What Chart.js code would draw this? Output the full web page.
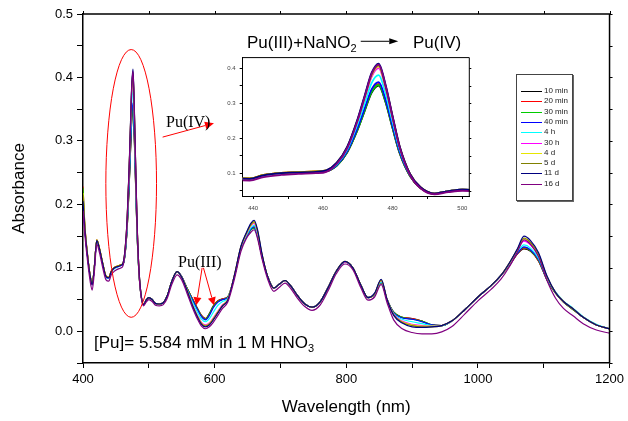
<!DOCTYPE html>
<html>
<head>
<meta charset="utf-8">
<script src="https://cdn.jsdelivr.net/npm/chart.js@4.4.0/dist/chart.umd.min.js"></script>
<style>
  body { margin: 0; background: #fff; }
  #wrap { position: relative; width: 628px; height: 421px; overflow: hidden; font-family: 'Liberation Sans', Arial, sans-serif; }
  #main { position: absolute; left: 0; top: 0; }
  #inset { position: absolute; left: 200px; top: 50px; }
  .note { position: absolute; white-space: nowrap; line-height: 1; color: #000; }
  .serif { font-family: 'Liberation Serif', 'Times New Roman', serif; font-size: 16px; }
  .sans { font-size: 17px; }
  .note sub { font-size: 11px; vertical-align: -4px; line-height: 0; }
  #legend { position: absolute; left: 516px; top: 74px; width: 55px; height: 125px; border: 1px solid #444; box-shadow: 1px 1px 0 #666; background: #fff; }
  .row { position: absolute; left: 0; width: 55px; height: 10px; font-size: 8px; line-height: 10px; color: #222; white-space: nowrap; }
  .row span.ln { position: absolute; left: 4px; top: 5px; width: 21px; height: 1px; }
  .row span.tx { position: absolute; left: 27px; top: 0; white-space: nowrap; }
</style>
</head>
<body>
<div id="wrap">
  <canvas id="main" width="628" height="421"></canvas>
  <canvas id="inset" width="280" height="170"></canvas>
  <div class="note sans" style="left:247px; top:34px;">Pu(III)+NaNO<sub>2</sub></div>
  <div class="note sans" style="left:413px; top:34px;">Pu(IV)</div>
  <div class="note serif" style="left:166px; top:114px;">Pu(IV)</div>
  <div class="note serif" style="left:178px; top:254px;">Pu(III)</div>
  <div class="note sans" style="left:94px; top:334px;">[Pu]= 5.584 mM in 1 M HNO<sub>3</sub></div>
  <div id="legend"></div>
</div>
<script>
// wavelength grid (nm)
const wavelengths = [
  400, 403, 407, 411, 414, 417, 421, 425, 430, 435, 439, 443, 448, 453, 458,
  461, 464, 467, 470, 472, 474, 476, 478, 480, 482, 485, 488,
  492, 496, 500, 505, 510, 516, 522, 528, 535, 543, 550, 558,
  566, 574, 580, 586, 592, 598, 605, 612, 620,
  630, 640, 648, 655, 660, 665, 672,
  680, 690, 698, 707, 716, 726, 737, 748, 760, 772, 785, 798, 810, 822, 833, 843, 853, 862,
  872, 885, 900, 915, 930, 945, 960,
  980, 1000, 1020, 1035, 1048, 1060, 1070, 1080, 1092, 1105,
  1118, 1130, 1145, 1160, 1180, 1200
];

const abs10min = [
  0.212, 0.160, 0.118, 0.086, 0.074, 0.098, 0.143, 0.130, 0.106, 0.086, 0.084, 0.094, 0.100, 0.102, 0.104,
  0.106, 0.122, 0.160, 0.225, 0.278, 0.330, 0.350, 0.302, 0.228, 0.158, 0.092, 0.058,
  0.042, 0.049, 0.053, 0.050, 0.044, 0.043, 0.045, 0.056, 0.079, 0.094, 0.086, 0.068,
  0.052, 0.036, 0.025, 0.020, 0.028, 0.040, 0.048, 0.051, 0.054,
  0.086, 0.130, 0.148, 0.160, 0.163, 0.150, 0.118,
  0.088, 0.068, 0.074, 0.080, 0.071, 0.056, 0.043, 0.038, 0.046, 0.068, 0.095, 0.109, 0.100, 0.073, 0.053, 0.058, 0.077, 0.050,
  0.030, 0.022, 0.020, 0.016, 0.010, 0.009, 0.016,
  0.034, 0.054, 0.072, 0.088, 0.104, 0.122, 0.130, 0.126, 0.111, 0.081,
  0.060, 0.046, 0.034, 0.022, 0.010, 0.004
];
const abs20min = [
  0.228, 0.165, 0.120, 0.087, 0.075, 0.099, 0.144, 0.131, 0.107, 0.087, 0.085, 0.095, 0.101, 0.103, 0.105,
  0.106, 0.123, 0.162, 0.228, 0.282, 0.335, 0.355, 0.306, 0.231, 0.160, 0.093, 0.058,
  0.042, 0.049, 0.053, 0.050, 0.044, 0.043, 0.045, 0.056, 0.079, 0.094, 0.086, 0.068,
  0.052, 0.036, 0.025, 0.020, 0.027, 0.039, 0.048, 0.051, 0.054,
  0.087, 0.131, 0.149, 0.161, 0.164, 0.151, 0.118,
  0.088, 0.068, 0.074, 0.080, 0.071, 0.056, 0.043, 0.038, 0.046, 0.068, 0.095, 0.109, 0.100, 0.073, 0.053, 0.058, 0.077, 0.050,
  0.030, 0.022, 0.020, 0.016, 0.010, 0.009, 0.016,
  0.034, 0.054, 0.072, 0.088, 0.104, 0.122, 0.131, 0.127, 0.111, 0.081,
  0.060, 0.046, 0.034, 0.022, 0.010, 0.004
];
const abs30min = [
  0.226, 0.163, 0.119, 0.086, 0.074, 0.098, 0.143, 0.130, 0.106, 0.086, 0.084, 0.094, 0.100, 0.102, 0.104,
  0.106, 0.122, 0.161, 0.226, 0.280, 0.332, 0.352, 0.304, 0.229, 0.159, 0.092, 0.058,
  0.042, 0.049, 0.053, 0.050, 0.044, 0.043, 0.045, 0.056, 0.079, 0.094, 0.086, 0.068,
  0.051, 0.035, 0.024, 0.019, 0.027, 0.039, 0.047, 0.050, 0.054,
  0.086, 0.130, 0.148, 0.160, 0.163, 0.150, 0.117,
  0.088, 0.068, 0.074, 0.080, 0.071, 0.056, 0.043, 0.038, 0.046, 0.068, 0.095, 0.109, 0.100, 0.073, 0.053, 0.058, 0.077, 0.050,
  0.030, 0.022, 0.019, 0.016, 0.010, 0.009, 0.016,
  0.034, 0.054, 0.072, 0.088, 0.105, 0.123, 0.132, 0.127, 0.112, 0.081,
  0.060, 0.046, 0.034, 0.022, 0.010, 0.004
];
const abs40min = [
  0.205, 0.158, 0.117, 0.086, 0.074, 0.098, 0.143, 0.130, 0.106, 0.086, 0.084, 0.094, 0.100, 0.102, 0.104,
  0.106, 0.123, 0.163, 0.231, 0.286, 0.340, 0.360, 0.310, 0.234, 0.162, 0.094, 0.059,
  0.042, 0.049, 0.053, 0.050, 0.044, 0.043, 0.045, 0.056, 0.079, 0.094, 0.086, 0.067,
  0.050, 0.034, 0.023, 0.018, 0.025, 0.037, 0.046, 0.050, 0.053,
  0.087, 0.131, 0.149, 0.161, 0.165, 0.152, 0.118,
  0.088, 0.068, 0.074, 0.080, 0.071, 0.056, 0.043, 0.038, 0.046, 0.068, 0.095, 0.109, 0.100, 0.073, 0.053, 0.058, 0.078, 0.050,
  0.029, 0.021, 0.019, 0.015, 0.010, 0.009, 0.016,
  0.034, 0.054, 0.072, 0.088, 0.105, 0.123, 0.133, 0.128, 0.113, 0.082,
  0.061, 0.047, 0.035, 0.022, 0.010, 0.004
];
const abs4h = [
  0.200, 0.157, 0.116, 0.085, 0.073, 0.097, 0.142, 0.129, 0.105, 0.085, 0.083, 0.093, 0.099, 0.101, 0.104,
  0.107, 0.126, 0.168, 0.242, 0.300, 0.358, 0.380, 0.326, 0.246, 0.169, 0.096, 0.059,
  0.042, 0.049, 0.053, 0.050, 0.044, 0.043, 0.045, 0.056, 0.079, 0.094, 0.085, 0.066,
  0.047, 0.030, 0.019, 0.015, 0.020, 0.030, 0.041, 0.047, 0.052,
  0.087, 0.132, 0.150, 0.163, 0.167, 0.154, 0.119,
  0.088, 0.068, 0.074, 0.080, 0.071, 0.056, 0.043, 0.038, 0.046, 0.068, 0.095, 0.109, 0.100, 0.073, 0.053, 0.058, 0.078, 0.050,
  0.028, 0.019, 0.015, 0.012, 0.009, 0.009, 0.016,
  0.034, 0.054, 0.072, 0.088, 0.106, 0.125, 0.136, 0.131, 0.115, 0.083,
  0.062, 0.048, 0.036, 0.023, 0.011, 0.004
];
const abs30h = [
  0.210, 0.160, 0.118, 0.086, 0.073, 0.098, 0.143, 0.130, 0.106, 0.086, 0.084, 0.094, 0.100, 0.102, 0.104,
  0.108, 0.129, 0.173, 0.251, 0.314, 0.376, 0.400, 0.342, 0.257, 0.175, 0.098, 0.060,
  0.042, 0.049, 0.053, 0.050, 0.044, 0.043, 0.045, 0.056, 0.079, 0.094, 0.085, 0.065,
  0.043, 0.025, 0.014, 0.010, 0.013, 0.021, 0.032, 0.042, 0.050,
  0.088, 0.133, 0.152, 0.166, 0.170, 0.156, 0.120,
  0.088, 0.068, 0.074, 0.080, 0.071, 0.056, 0.043, 0.038, 0.046, 0.068, 0.095, 0.109, 0.100, 0.073, 0.053, 0.059, 0.080, 0.050,
  0.027, 0.016, 0.011, 0.009, 0.008, 0.009, 0.016,
  0.034, 0.054, 0.072, 0.088, 0.107, 0.128, 0.142, 0.136, 0.119, 0.085,
  0.061, 0.047, 0.035, 0.022, 0.010, 0.004
];
const abs4d = [
  0.218, 0.162, 0.119, 0.087, 0.074, 0.099, 0.144, 0.131, 0.107, 0.087, 0.085, 0.095, 0.101, 0.103, 0.105,
  0.108, 0.129, 0.174, 0.253, 0.317, 0.380, 0.405, 0.345, 0.259, 0.176, 0.098, 0.060,
  0.042, 0.049, 0.053, 0.050, 0.044, 0.043, 0.045, 0.056, 0.079, 0.094, 0.085, 0.065,
  0.042, 0.024, 0.013, 0.009, 0.012, 0.020, 0.031, 0.041, 0.050,
  0.088, 0.133, 0.153, 0.167, 0.172, 0.158, 0.121,
  0.088, 0.068, 0.074, 0.080, 0.071, 0.056, 0.043, 0.038, 0.046, 0.068, 0.095, 0.110, 0.100, 0.073, 0.053, 0.059, 0.080, 0.050,
  0.026, 0.015, 0.010, 0.008, 0.008, 0.009, 0.016,
  0.034, 0.054, 0.072, 0.088, 0.107, 0.129, 0.146, 0.139, 0.121, 0.086,
  0.061, 0.047, 0.035, 0.022, 0.010, 0.004
];
const abs5d = [
  0.215, 0.161, 0.119, 0.087, 0.075, 0.099, 0.144, 0.131, 0.107, 0.087, 0.085, 0.095, 0.101, 0.103, 0.105,
  0.108, 0.130, 0.175, 0.254, 0.319, 0.383, 0.408, 0.348, 0.261, 0.177, 0.098, 0.060,
  0.042, 0.049, 0.053, 0.050, 0.044, 0.043, 0.045, 0.056, 0.079, 0.094, 0.085, 0.065,
  0.042, 0.023, 0.012, 0.008, 0.011, 0.019, 0.030, 0.040, 0.049,
  0.088, 0.134, 0.154, 0.168, 0.173, 0.159, 0.121,
  0.088, 0.068, 0.074, 0.080, 0.071, 0.056, 0.043, 0.038, 0.046, 0.068, 0.095, 0.110, 0.100, 0.073, 0.053, 0.059, 0.081, 0.050,
  0.026, 0.014, 0.009, 0.007, 0.007, 0.009, 0.016,
  0.034, 0.054, 0.072, 0.088, 0.108, 0.129, 0.147, 0.140, 0.122, 0.086,
  0.061, 0.047, 0.035, 0.022, 0.010, 0.004
];
const abs11d = [
  0.205, 0.158, 0.117, 0.086, 0.073, 0.098, 0.143, 0.130, 0.106, 0.086, 0.084, 0.094, 0.100, 0.102, 0.104,
  0.108, 0.130, 0.176, 0.256, 0.322, 0.387, 0.413, 0.352, 0.263, 0.178, 0.098, 0.060,
  0.042, 0.049, 0.053, 0.050, 0.044, 0.043, 0.045, 0.056, 0.079, 0.094, 0.085, 0.064,
  0.041, 0.022, 0.011, 0.007, 0.010, 0.018, 0.029, 0.040, 0.049,
  0.088, 0.134, 0.155, 0.170, 0.175, 0.161, 0.122,
  0.088, 0.068, 0.074, 0.080, 0.071, 0.056, 0.043, 0.038, 0.046, 0.068, 0.095, 0.110, 0.100, 0.073, 0.053, 0.060, 0.082, 0.050,
  0.025, 0.013, 0.007, 0.006, 0.007, 0.009, 0.016,
  0.034, 0.054, 0.072, 0.088, 0.108, 0.130, 0.150, 0.143, 0.124, 0.087,
  0.061, 0.047, 0.035, 0.022, 0.010, 0.004
];
const abs16d = [
  0.190, 0.150, 0.110, 0.078, 0.065, 0.090, 0.137, 0.124, 0.100, 0.081, 0.079, 0.089, 0.095, 0.098, 0.100,
  0.104, 0.127, 0.172, 0.252, 0.318, 0.384, 0.410, 0.349, 0.260, 0.175, 0.095, 0.057,
  0.040, 0.046, 0.050, 0.047, 0.041, 0.040, 0.042, 0.052, 0.074, 0.089, 0.081, 0.060,
  0.038, 0.019, 0.008, 0.004, 0.007, 0.014, 0.025, 0.036, 0.046,
  0.082, 0.126, 0.146, 0.156, 0.160, 0.147, 0.114,
  0.084, 0.063, 0.069, 0.076, 0.067, 0.052, 0.039, 0.033, 0.041, 0.063, 0.091, 0.106, 0.097, 0.069, 0.049, 0.054, 0.074, 0.045,
  0.018, 0.004, -0.002, -0.004, -0.004, -0.001, 0.007,
  0.027, 0.048, 0.066, 0.082, 0.102, 0.125, 0.144, 0.137, 0.118, 0.080,
  0.052, 0.036, 0.024, 0.012, 0.002, -0.003
];

const seriesLabels = ['10 min', '20 min', '30 min', '40 min', '4 h', '30 h', '4 d', '5 d', '11 d', '16 d'];
const seriesValues = [abs10min, abs20min, abs30min, abs40min, abs4h, abs30h, abs4d, abs5d, abs11d, abs16d];
const seriesColors = ['#000000', '#ff0000', '#00cc00', '#0000ff', '#00ffff', '#ff00ff', '#e6e600', '#808000', '#000080', '#800080'];

Chart.defaults.font.family = "'Liberation Sans', Arial, sans-serif";
Chart.defaults.color = '#000';

function makeDatasets(width) {
  return seriesValues.map((vals, i) => ({
    label: seriesLabels[i],
    data: wavelengths.map((w, j) => ({ x: w, y: vals[j] })),
    borderColor: seriesColors[i],
    borderWidth: width,
    pointRadius: 0,
    cubicInterpolationMode: 'monotone',
    fill: false,
    order: seriesValues.length - 1 - i
  }));
}

function drawArrow(ctx, x1, y1, x2, y2, head, width) {
  const ang = Math.atan2(y2 - y1, x2 - x1);
  const bx = x2 - head * Math.cos(ang);
  const by = y2 - head * Math.sin(ang);
  ctx.beginPath();
  ctx.moveTo(x1, y1);
  ctx.lineTo(bx, by);
  ctx.stroke();
  ctx.beginPath();
  ctx.moveTo(x2, y2);
  ctx.lineTo(bx + width / 2 * Math.sin(ang), by - width / 2 * Math.cos(ang));
  ctx.lineTo(bx - width / 2 * Math.sin(ang), by + width / 2 * Math.cos(ang));
  ctx.closePath();
  ctx.fill();
}

// top / right frame with outward ticks
const framePlugin = {
  id: 'frame',
  afterDraw(chart, args, opts) {
    const { ctx, chartArea: a, scales: { x, y } } = chart;
    ctx.save();
    ctx.strokeStyle = '#000';
    ctx.lineWidth = opts.width;
    ctx.beginPath();
    ctx.moveTo(a.left, a.top);
    ctx.lineTo(a.right, a.top);
    ctx.lineTo(a.right, a.bottom);
    ctx.stroke();
    ctx.lineWidth = 1;
    ctx.beginPath();
    if (opts.topTicks) {
      x.ticks.forEach(t => {
        const px = Math.round(x.getPixelForValue(t.value)) + 0.5;
        ctx.moveTo(px, a.top);
        ctx.lineTo(px, a.top - opts.tick);
      });
    }
    y.ticks.forEach(t => {
      const py = Math.round(y.getPixelForValue(t.value)) + 0.5;
      ctx.moveTo(a.right, py);
      ctx.lineTo(a.right + opts.tick, py);
    });
    ctx.stroke();
    ctx.restore();
  }
};

// ellipse and arrows of the main plot
const notesPlugin = {
  id: 'notes',
  afterDraw(chart) {
    const { ctx, scales: { x, y } } = chart;
    ctx.save();
    ctx.strokeStyle = '#ff0000';
    ctx.fillStyle = '#ff0000';
    ctx.lineWidth = 1;
    const cx = x.getPixelForValue(473.2), cy = y.getPixelForValue(0.233);
    const rx = x.getPixelForValue(511.7) - cx, ry = cy - y.getPixelForValue(0.444);
    ctx.beginPath();
    ctx.ellipse(cx, cy, rx, ry, 0, 0, Math.PI * 2);
    ctx.stroke();
    drawArrow(ctx, x.getPixelForValue(521), y.getPixelForValue(0.306), x.getPixelForValue(599), y.getPixelForValue(0.328), 9, 8);
    drawArrow(ctx, x.getPixelForValue(581), y.getPixelForValue(0.1), x.getPixelForValue(572), y.getPixelForValue(0.041), 8, 8);
    drawArrow(ctx, x.getPixelForValue(583), y.getPixelForValue(0.1), x.getPixelForValue(599), y.getPixelForValue(0.041), 8, 8);
    // title arrow
    ctx.strokeStyle = '#000';
    ctx.fillStyle = '#000';
    drawArrow(ctx, x.getPixelForValue(822), y.getPixelForValue(0.457), x.getPixelForValue(879), y.getPixelForValue(0.457), 9, 6);
    ctx.restore();
  }
};

new Chart(document.getElementById('main'), {
  type: 'line',
  data: { datasets: makeDatasets(1.2) },
  plugins: [framePlugin, notesPlugin],
  options: {
    responsive: false,
    animation: false,
    devicePixelRatio: 1,
    layout: { padding: { top: 14, right: 15, left: 0, bottom: 0 } },
    plugins: {
      legend: { display: false },
      tooltip: { enabled: false },
      frame: { width: 1.5, tick: 3, topTicks: true }
    },
    scales: {
      x: {
        type: 'linear',
        min: 400,
        max: 1200,
        afterFit: s => { s.height = 58; },
        border: { color: '#000', width: 1.5 },
        grid: { drawOnChartArea: false, color: '#000', tickLength: 5 },
        ticks: {
          stepSize: 100,
          includeBounds: false,
          maxRotation: 0,
          autoSkip: false,
          padding: 4,
          font: { size: 13 },
          callback: v => (v % 200 === 0 ? String(v) : '')
        },
        title: { display: true, text: 'Wavelength (nm)', font: { size: 17 }, padding: { top: 0, bottom: 3 } }
      },
      y: {
        min: -0.05,
        max: 0.5,
        afterFit: s => { s.width = 83; },
        border: { color: '#000', width: 1.5 },
        grid: { drawOnChartArea: false, color: '#000', tickLength: 6 },
        ticks: {
          stepSize: 0.05,
          includeBounds: false,
          autoSkip: false,
          padding: 4,
          font: { size: 13 },
          callback: v => {
            const r = Math.round(v * 100);
            return r % 10 === 0 ? (r / 100).toFixed(1) : '';
          }
        },
        title: { display: true, text: 'Absorbance', font: { size: 17 }, padding: { top: 9, bottom: 0 } }
      }
    }
  }
});

new Chart(document.getElementById('inset'), {
  type: 'line',
  data: { datasets: makeDatasets(1.8) },
  plugins: [framePlugin],
  options: {
    responsive: false,
    animation: false,
    devicePixelRatio: 1,
    layout: { padding: { top: 6.7, right: 10.7, left: 0, bottom: 0 } },
    plugins: {
      legend: { display: false },
      tooltip: { enabled: false },
      frame: { width: 1, tick: 2, topTicks: false }
    },
    scales: {
      x: {
        type: 'linear',
        min: 437,
        max: 502,
        afterFit: s => { s.height = 24; },
        border: { color: '#000', width: 1 },
        grid: { drawOnChartArea: false, color: '#000', tickLength: 3 },
        ticks: {
          stepSize: 10,
          includeBounds: false,
          maxRotation: 0,
          autoSkip: false,
          padding: 6,
          color: '#444',
          font: { size: 6 },
          callback: v => (v % 20 === 0 ? String(v) : '')
        }
      },
      y: {
        min: 0.035,
        max: 0.43,
        afterFit: s => { s.width = 42.7; },
        border: { color: '#000', width: 1 },
        grid: { drawOnChartArea: false, color: '#000', tickLength: 3 },
        ticks: {
          stepSize: 0.05,
          includeBounds: false,
          autoSkip: false,
          padding: 4,
          color: '#444',
          font: { size: 6 },
          callback: v => {
            const r = Math.round(v * 100);
            return r % 10 === 0 ? (r / 100).toFixed(1) : '';
          }
        }
      }
    }
  }
});

// legend box
const legend = document.getElementById('legend');
seriesLabels.forEach((name, i) => {
  const row = document.createElement('div');
  row.className = 'row';
  row.style.top = (11 + i * 10.3) + 'px';
  row.innerHTML = '<span class="ln" style="background:' + seriesColors[i] + '"></span><span class="tx">' + name + '</span>';
  legend.appendChild(row);
});
</script>
</body>
</html>
